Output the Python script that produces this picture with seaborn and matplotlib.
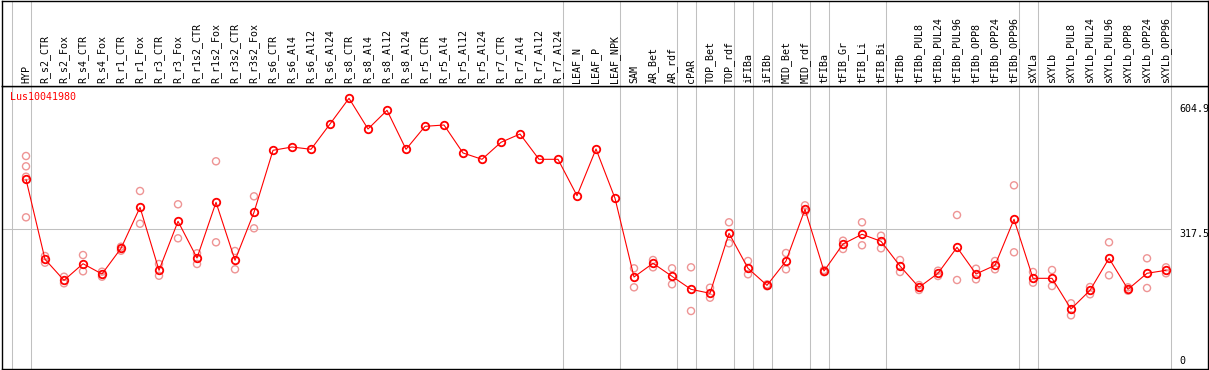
import numpy as np
import pandas as pd
import matplotlib
matplotlib.use("Agg")
import matplotlib.pyplot as plt
import seaborn as sns

# Expression profile for one gene across sample types
gene = "Lus10041980"

categories = [
    "HYP", "R_s2_CTR", "R_s2_Fox", "R_s4_CTR", "R_s4_Fox", "R_r1_CTR", "R_r1_Fox",
    "R_r3_CTR", "R_r3_Fox", "R_r1s2_CTR", "R_r1s2_Fox", "R_r3s2_CTR", "R_r3s2_Fox",
    "R_s6_CTR", "R_s6_Al4", "R_s6_Al12", "R_s6_Al24", "R_s8_CTR", "R_s8_Al4",
    "R_s8_Al12", "R_s8_Al24", "R_r5_CTR", "R_r5_Al4", "R_r5_Al12", "R_r5_Al24",
    "R_r7_CTR", "R_r7_Al4", "R_r7_Al12", "R_r7_Al24", "LEAF_N", "LEAF_P", "LEAF_NPK",
    "SAM", "AR_Bet", "AR_rdf", "cPAR", "TOP_Bet", "TOP_rdf", "iFIBa", "iFIBb",
    "MID_Bet", "MID_rdf", "tFIBa", "tFIB_Gr", "tFIB_Li", "tFIB_Bi", "tFIBb",
    "tFIBb_PUL8", "tFIBb_PUL24", "tFIBb_PUL96", "tFIBb_OPP8", "tFIBb_OPP24",
    "tFIBb_OPP96", "sXYLa", "sXYLb", "sXYLb_PUL8", "sXYLb_PUL24", "sXYLb_PUL96",
    "sXYLb_OPP8", "sXYLb_OPP24", "sXYLb_OPP96",
]

mean_vals = [
    431.5, 246.7, 198.2, 236.5, 212.8, 272.1, 366.8, 221.3, 334.5, 249.7, 378.4, 244.4, 355.3,
    498.5, 506.1, 500.8, 559.3, 618.6, 547.7, 590.9, 500.8, 553.9, 556.9, 492.3, 477.7,
    517.0, 536.1, 477.7, 477.7, 393.6, 501.5, 387.6,
    205.8, 237.5, 207.4, 177.4, 168.2, 306.8, 225.9, 186.6, 242.8, 362.2, 219.7, 282.1,
    304.5, 288.3, 231.2, 182.0, 214.4, 274.4, 212.8, 232.8, 339.1, 202.8, 202.8, 131.9,
    175.1, 249.0, 177.4, 214.4, 221.3,
]

nan = np.nan
rep_hi = [
    485.3, 254.3, 206.5, 256.6, 218.1, 275.8, 404.5, 235.9, 373.8, 260.6, 473.1, 265.9, 392.2,
    nan, nan, nan, nan, nan, nan, nan, nan, nan, nan, nan, nan, nan, nan, nan, nan, nan, nan, nan,
    225.9, 245.1, 225.9, 228.2, 181.1, 332.2, 242.8, 189.0, 261.3, 371.4, 222.0, 289.7,
    332.2, 301.2, 245.1, 187.3, 220.4, 349.0, 225.0, 242.8, 417.6, 217.4, 222.0, 145.1,
    182.7, 286.0, 182.0, 249.0, 228.2,
]
rep_lo = [
    343.7, 238.9, 191.3, 219.0, 206.5, 266.6, 328.9, 208.8, 295.2, 235.9, 286.0, 223.6, 318.3,
    nan, nan, nan, nan, nan, nan, nan, nan, nan, nan, nan, nan, nan, nan, nan, nan, nan, nan, nan,
    182.0, 228.2, 189.0, 127.3, 158.0, 283.7, 212.1, 184.5, 223.6, 356.7, 217.0, 270.5,
    279.1, 272.1, 217.4, 175.8, 208.1, 198.9, 200.5, 223.6, 262.9, 192.7, 185.0, 117.3,
    165.9, 209.7, 174.2, 180.4, 214.4,
]
hyp_extra = [461.5, 437.5]

# index of the last sample in each group (separator drawn just after it)
group_ends = [-1, 0, 28, 31, 34, 35, 37, 38, 39, 41, 42, 45, 52, 53, 60]

axis_labels = [(604.9, "604.9", "top"), (317.5, "317.5", "top"), (0, "0", "bottom")]

pos = np.arange(len(categories))
df_mean = pd.DataFrame({"pos": pos, "value": mean_vals})
df_rep = pd.concat([
    pd.DataFrame({"pos": pos, "value": rep_hi}),
    pd.DataFrame({"pos": pos, "value": rep_lo}),
    pd.DataFrame({"pos": [0] * len(hyp_extra), "value": hyp_extra}),
]).dropna()

sns.set_style("white")
plt.rcParams["font.family"] = ["DejaVu Sans Mono", "DejaVu Sans"]

W, H = 1209, 370
fig = plt.figure(figsize=(W / 100, H / 100), dpi=100)
top_frac = 1 - 85.7 / H
ax = fig.add_axes([1.5 / W, 1.5 / H, (1208 - 1.5) / W, top_frac - 1.5 / H])
hdr = fig.add_axes([1.5 / W, top_frac, (1208 - 1.5) / W, 1 - top_frac - 0.5 / H], sharex=ax)

xmin, xmax = -1.29, 62.21
sep = [g + 0.245 for g in group_ends]
grey = "#c0c0c0"
lw_px = 0.75

for a in (ax, hdr):
    for s in a.spines.values():
        s.set_color("black")
        s.set_linewidth(1.0)
    for x in sep:
        a.axvline(x, color=grey, lw=lw_px, zorder=0)
    a.tick_params(left=False, bottom=False, top=False, right=False,
                  labelleft=False, labelbottom=False)

ax.set_xlim(xmin, xmax)
ax.set_ylim(-5.5, 647.7)
hdr.set_ylim(0, 1)

ax.hlines(317.5, xmin, sep[-1], color=grey, lw=lw_px, zorder=0)

sns.scatterplot(data=df_rep, x="pos", y="value", ax=ax, marker="o", s=26,
                facecolor="none", edgecolor="#ee9494", linewidth=1.0, zorder=2)
sns.lineplot(data=df_mean, x="pos", y="value", ax=ax, color="red", lw=0.8,
             marker="o", markersize=5.4, markerfacecolor="none",
             markeredgecolor="red", markeredgewidth=1.3, zorder=3)
ax.set_xlabel("")
ax.set_ylabel("")

for i, name in enumerate(categories):
    hdr.text(i, 0.03, name, rotation=90, ha="center", va="bottom",
             fontsize=7.2, color="black")

for val, txt, va in axis_labels:
    ax.text(60.68, val, txt, ha="left", va=va, fontsize=7.2, color="black")

ax.text(0.007, 0.96, gene, transform=ax.transAxes, ha="left", va="center",
        fontsize=7.2, color="red")

fig.savefig("out.png", dpi=100)
